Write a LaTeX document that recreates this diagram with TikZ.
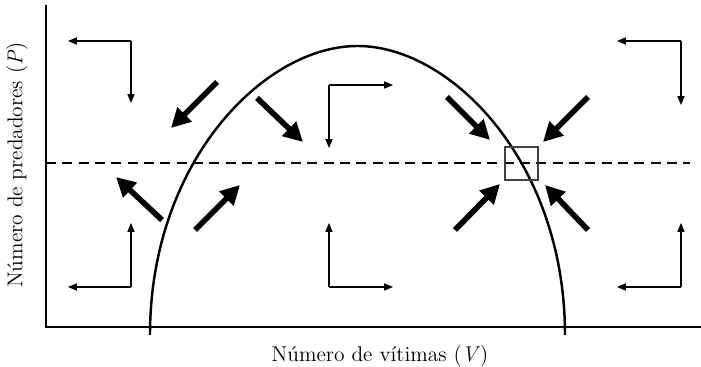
\documentclass[tikz,border=0pt]{standalone}
\usetikzlibrary{arrows.meta}
\tikzset{
  flow/.style={line width=3.2pt,-{Triangle[length=11pt,width=11pt]}},
  trend/.style={line width=0.6pt,-{Triangle[length=5pt,width=4pt]}},
}
\begin{document}
\begin{tikzpicture}[x=0.02cm,y=0.02cm,font=\fontsize{12.2}{14}\selectfont]
\useasboundingbox (0,0) rectangle (701,367);
% axes
\coordinate (o) at (46,40);
\draw[line width=0.7pt] (46,362) -- (o) -- (701,40);
\node[rotate=90] (ylab) at (17,202) {N\'umero de predadores (\textit{P})};
\node (xlab) at (380,11) {N\'umero de v\'itimas (\textit{V})};

% isoclines
\draw[line width=1.4pt,dash pattern=on 5.7pt off 3.6pt] (46,204) -- (690,204);
\draw[line width=1.4pt] (150,32) .. controls (150,205) and (264,321) .. (357.5,321)
  .. controls (451,321) and (565,205) .. (565,32);
\draw[line width=0.6pt,black!75] (505,187) rectangle (538,220);

% thin vectors
\begin{scope}[shift={(131,326)}]
\draw[trend] (0,0) -- (-63,0);
\draw[trend] (0,0) -- (0,-62);
\end{scope}
\begin{scope}[shift={(131,80)}]
\draw[trend] (0,0) -- (-63,0);
\draw[trend] (0,0) -- (0,64);
\end{scope}
\begin{scope}[shift={(329,282)}]
\draw[trend] (0,0) -- (64,0);
\draw[trend] (0,0) -- (0,-63);
\end{scope}
\begin{scope}[shift={(329,80)}]
\draw[trend] (0,0) -- (64,0);
\draw[trend] (0,0) -- (0,64);
\end{scope}
\begin{scope}[shift={(681,326)}]
\draw[trend] (0,0) -- (-64,0);
\draw[trend] (0,0) -- (0,-64);
\end{scope}
\begin{scope}[shift={(681,80)}]
\draw[trend] (0,0) -- (-64,0);
\draw[trend] (0,0) -- (0,64);
\end{scope}

% thick vectors
\foreach \a/\b/\c/\d in {217/285/171/239, 257/269/303/225, 447/270/490/227,
  588/270/543/225, 162/147/116/190, 195/137/240/182, 455/137/500/183,
  588/137/545/182}
  \draw[flow] (\a,\b) -- (\c,\d);
\end{tikzpicture}
\end{document}
